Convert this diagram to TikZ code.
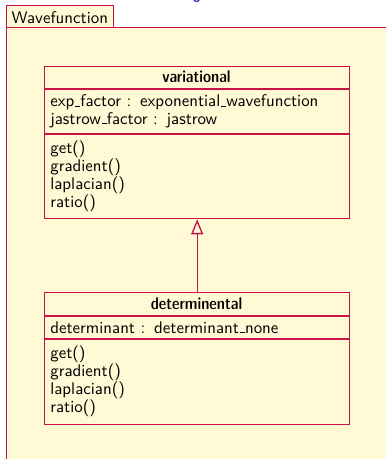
\documentclass[tikz,border=0pt]{standalone}
\usetikzlibrary{arrows.meta}
\definecolor{umlline}{RGB}{200,18,72}
\definecolor{umlfill}{RGB}{255,249,214}
\definecolor{headblue}{RGB}{55,55,205}
% low rule used as underscore inside identifiers
\newcommand\usc{\leavevmode\kern.06em\vbox{\hrule width.3em height.05em}}
% "name : type" separator
\newcommand\attrsep{\ :\hspace{0.52em}}
\tikzset{
  umltext/.style={inner sep=0pt, scale=1.6, transform shape,
    font=\sffamily\fontsize{10.56}{12}\selectfont, text=black},
  member/.style={umltext, anchor=base west},
  classname/.style={umltext, anchor=base,
    font=\sffamily\fontseries{sbc}\fontsize{10.56}{12}\selectfont},
  classbox/.style={draw=umlline, fill=umlfill, line width=1.35pt, anchor=north west, inner sep=0pt},
  sep/.style={draw=umlline, line width=1.35pt},
  inherit/.style={draw=umlline, line width=1.35pt, -{Triangle[open, length=15pt, width=12pt, fill=umlfill]}}
}
\begin{document}
\begin{tikzpicture}[x=1pt, y=1pt]
\useasboundingbox (0,0) rectangle (386,459);
\clip (0,0) rectangle (386,459);

% package frame (runs past the right and bottom edges)
\node[classbox, minimum width=420, minimum height=460] (pkg) at (6,432) {};
\node[classbox, anchor=south west, minimum width=107, minimum height=22] (tab) at (6,431) {};
\node[member] (tabname) at (11.3,435.7) {Wavefunction};

% heading descender above the frame
\draw[headblue, line width=1.3pt] (193.5,460) .. controls (194,456.8) and (199,456.8) .. (199.5,460);

% class: variational
\node[classbox, minimum width=305, minimum height=152] (var) at (44,393) {};
\draw[sep] (44,370) -- (349,370);
\draw[sep] (44,325) -- (349,325);
\node[classname] (varname) at (196.5,376.3) {variational};
\node[member] (vara1) at (50,352.3) {exp\usc factor\attrsep exponential\usc wavefunction};
\node[member] (vara2) at (50,334.7) {jastrow\usc factor\attrsep jastrow};
\node[member] (varm1) at (50,305.0) {get()};
\node[member] (varm2) at (50,287.2) {gradient()};
\node[member] (varm3) at (50,269.2) {laplacian()};
\node[member] (varm4) at (50,251.3) {ratio()};

% class: determinental
\node[classbox, minimum width=305, minimum height=132] (det) at (44,167) {};
\draw[sep] (44,143) -- (349,143);
\draw[sep] (44,120) -- (349,120);
\node[classname] (detname) at (196.5,149.0) {determinental};
\node[member] (deta1) at (50,125.7) {determinant\attrsep determinant\usc none};
\node[member] (detm1) at (50,100.0) {get()};
\node[member] (detm2) at (50,82.3) {gradient()};
\node[member] (detm3) at (50,64.0) {laplacian()};
\node[member] (detm4) at (50,46.3) {ratio()};

% generalisation
\draw[inherit] (det.north) -- (var.south);
\end{tikzpicture}
\end{document}
